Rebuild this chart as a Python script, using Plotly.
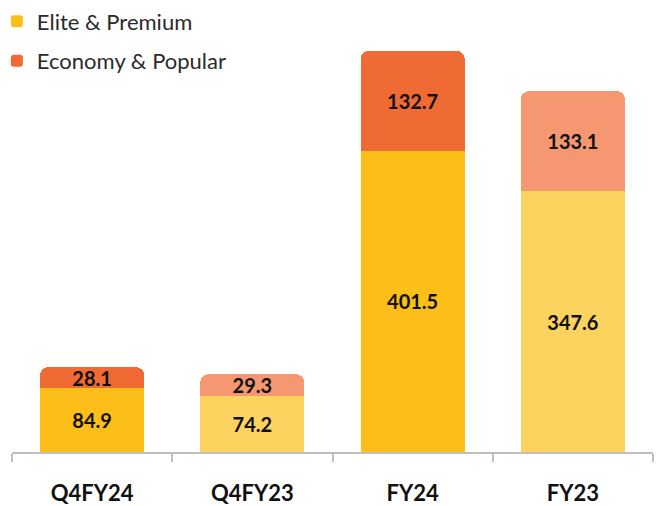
import plotly.graph_objects as go

categories = ["Q4FY24", "Q4FY23", "FY24", "FY23"]
elite_premium = [84.9, 74.2, 401.5, 347.6]
economy_popular = [28.1, 29.3, 132.7, 133.1]

elite_colors = ["#FCBE18", "#FDD35F", "#FCBE18", "#FDD35F"]
economy_colors = ["#F06A33", "#F59872", "#F06A33", "#F59872"]

fig = go.Figure()
fig.add_trace(go.Bar(
    x=categories, y=elite_premium, name="Elite & Premium",
    marker=dict(color=elite_colors, line=dict(width=0)),
    text=[f"{v:.1f}" for v in elite_premium], textposition="inside",
    insidetextanchor="middle",
    textfont=dict(family="Lato", size=20, color="#111111", weight="bold"),
    legendgroup="a",
))
fig.add_trace(go.Bar(
    x=categories, y=economy_popular, name="Economy & Popular",
    marker=dict(color=economy_colors, line=dict(width=0)),
    text=[f"{v:.1f}" for v in economy_popular], textposition="inside",
    insidetextanchor="middle",
    textfont=dict(family="Lato", size=20, color="#111111", weight="bold"),
    legendgroup="b",
))

fig.update_layout(
    width=657, height=506,
    margin=dict(l=12, r=4, t=0, b=54, autoexpand=False),
    barmode="stack", bargap=0.35, barcornerradius=8,
    plot_bgcolor="white", paper_bgcolor="white",
    uniformtext=dict(minsize=20, mode="show"),
    showlegend=True,
    legend=dict(
        xref="paper", yref="paper", x=-0.0236, y=0.999, xanchor="left", yanchor="top",
        font=dict(family="Lato", size=22, color="#2b2b2b"),
        tracegroupgap=8, traceorder="grouped", bgcolor="rgba(0,0,0,0)",
    ),
    xaxis=dict(
        showline=True, linecolor="#BFBFBF", linewidth=2,
        ticks="outside", tickson="boundaries", ticklen=8, tickcolor="#BFBFBF", tickwidth=2,
        tickfont=dict(family="Lato", size=22, color="#111111", weight="bold"),
        ticklabelstandoff=21, automargin=False,
        showgrid=False,
    ),
    yaxis=dict(range=[0, 602.1], visible=False, showgrid=False, zeroline=False),
)

fig.write_html(
    "out.html",
    config={"displayModeBar": False},
    post_script="document.body.style.margin='0';document.body.style.overflow='hidden';",
)
